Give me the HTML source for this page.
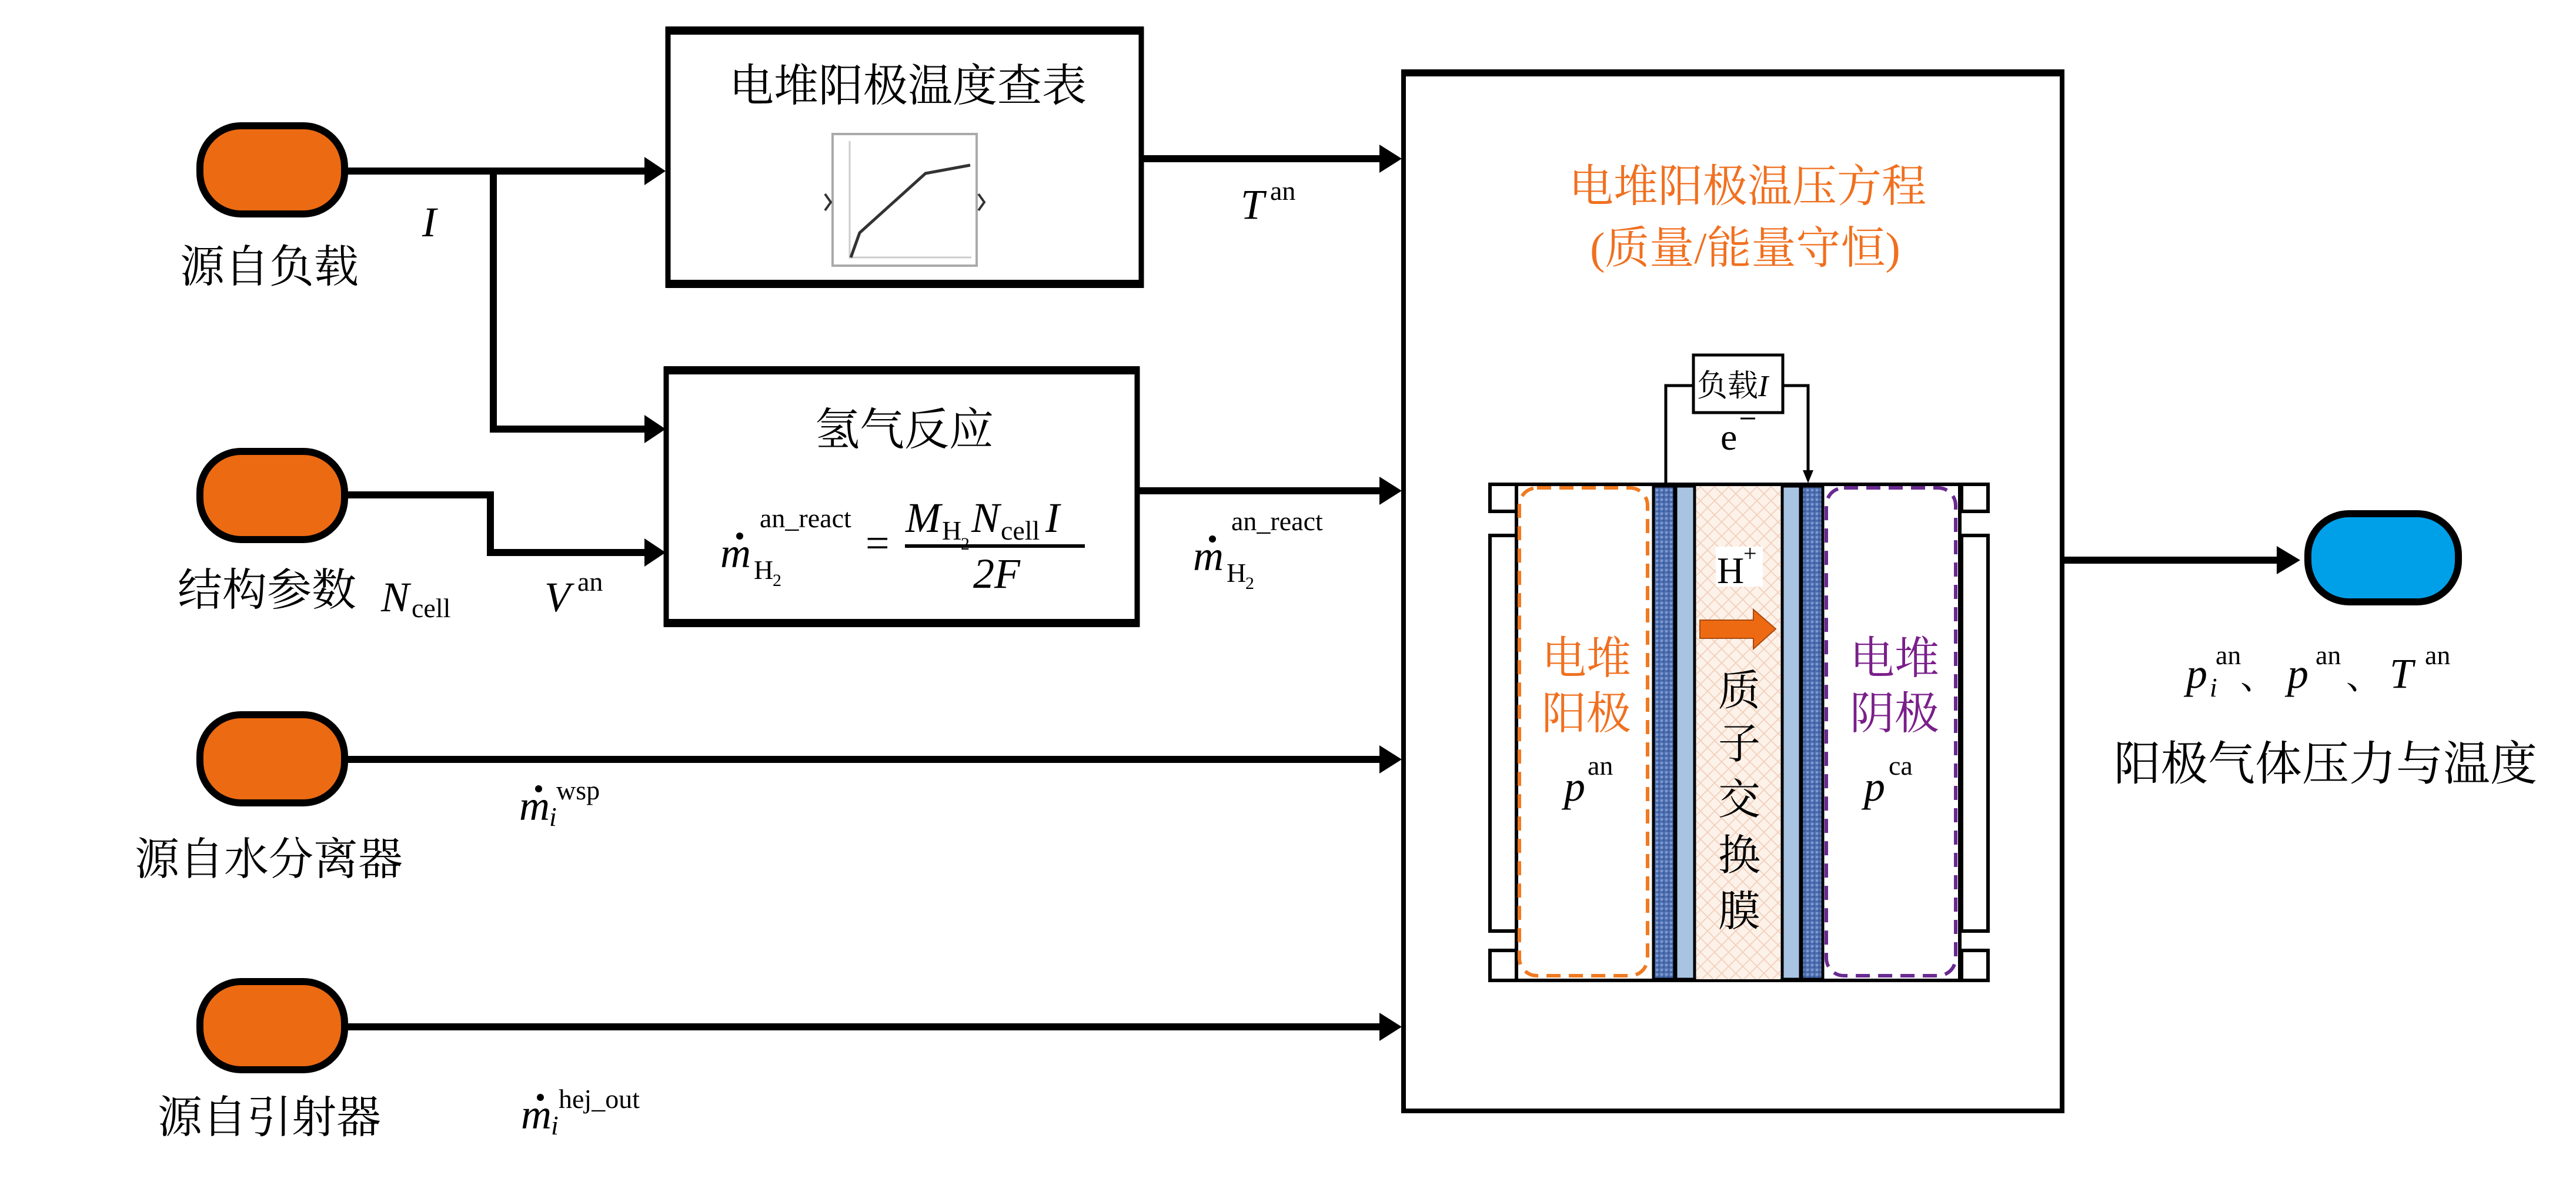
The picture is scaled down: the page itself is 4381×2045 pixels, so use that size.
<!DOCTYPE html>
<html><head><meta charset="utf-8"><style>
html,body{margin:0;padding:0;background:#fff;}
svg{display:block;}
.cn{font-family:"Liberation Serif","Noto Serif CJK SC",serif;}
.m{font-family:"Liberation Serif",serif;font-style:italic;}
.r{font-family:"Liberation Serif",serif;}
</style></head><body>
<svg width="4381" height="2045" viewBox="0 0 4381 2045" xmlns="http://www.w3.org/2000/svg">
<defs>
<pattern id="tex" width="8" height="8" patternUnits="userSpaceOnUse">
<rect width="8" height="8" fill="#4d6fb0"/><rect x="0" y="0" width="4" height="4" fill="#7f9ad0"/><rect x="4" y="4" width="3" height="3" fill="#3a5a9c"/>
</pattern>
<pattern id="mesh" width="24" height="24" patternUnits="userSpaceOnUse">
<rect width="24" height="24" fill="#fdf2ea"/><path d="M0 0L24 24M24 0L0 24" stroke="#f3d2bf" stroke-width="2"/>
</pattern>
</defs>

<g stroke="#000" stroke-width="12" fill="#ec6a12">
<rect x="340" y="214" width="246" height="150" rx="70"/>
<rect x="340" y="768" width="246" height="150" rx="70"/>
<rect x="340" y="1216" width="246" height="150" rx="70"/>
<rect x="340" y="1670" width="246" height="150" rx="70"/>
<rect x="3925" y="874" width="256" height="150" rx="70" fill="#00a0e9"/>
</g>

<g stroke="#000" stroke-width="12" fill="none">
<path d="M586 291H1100"/>
<path d="M839 291V730H1100"/>
<path d="M586 842H834V940H1100"/>
<path d="M1944 270H2350"/>
<path d="M1937 835H2350"/>
<path d="M586 1292H2350"/>
<path d="M586 1747H2350"/>
<path d="M3509 953H3890"/>
</g>
<g fill="#000">
<path d="M1096 267L1132 291L1096 315Z"/>
<path d="M1096 706L1132 730L1096 754Z"/>
<path d="M1096 916L1132 940L1096 964Z"/>
<path d="M2346 246L2384 270L2346 294Z"/>
<path d="M2346 811L2384 835L2346 859Z"/>
<path d="M2346 1268L2384 1292L2346 1316Z"/>
<path d="M2346 1723L2384 1747L2346 1771Z"/>
<path d="M3872 929L3912 953L3872 977Z"/>
</g>

<rect x="1136" y="50" width="805" height="435" fill="none" stroke="#000" stroke-width="9"/>
<line x1="1132" y1="52" x2="1945" y2="52" stroke="#000" stroke-width="14"/>
<line x1="1132" y1="483" x2="1945" y2="483" stroke="#000" stroke-width="14"/>
<rect x="1133" y="628" width="801" height="434" fill="none" stroke="#000" stroke-width="9"/>
<line x1="1129" y1="630" x2="1938" y2="630" stroke="#000" stroke-width="14"/>
<line x1="1129" y1="1060" x2="1938" y2="1060" stroke="#000" stroke-width="14"/>
<rect x="2387" y="122" width="1120" height="1768" fill="none" stroke="#000" stroke-width="8"/>
<line x1="2383" y1="124" x2="3511" y2="124" stroke="#000" stroke-width="12"/>

<rect x="1416" y="228" width="245" height="224" fill="#fff" stroke="#aaa" stroke-width="4"/>
<line x1="1445" y1="240" x2="1445" y2="440" stroke="#ccc" stroke-width="3"/>
<line x1="1445" y1="438" x2="1652" y2="438" stroke="#ccc" stroke-width="3"/>
<polyline points="1447,438 1462,396 1574,295 1650,281" fill="none" stroke="#333" stroke-width="5"/>
<path d="M1403 330L1413 344L1403 358M1664 330L1674 344L1664 358" fill="none" stroke="#333" stroke-width="4"/>

<g class="cn" font-size="76" fill="#000">
<text x="306" y="480">源自负载</text>
<text x="302" y="1030">结构参数</text>
<text x="229" y="1488">源自水分离器</text>
<text x="268" y="1927">源自引射器</text>
<text x="1240" y="172">电堆阳极温度查表</text>
<text x="1538" y="757" text-anchor="middle">氢气反应</text>
<text x="3595" y="1327" font-size="80">阳极气体压力与温度</text>
</g>
<g class="cn" font-size="76" fill="#f07020" text-anchor="middle">
<text x="2972" y="343">电堆阳极温压方程</text>
<text x="2968" y="448">(质量/能量守恒)</text>
</g>

<g fill="#000" font-size="72">
<text class="m" x="718" y="402">I</text>
<text class="m" x="2110" y="372">T</text><text class="r" x="2160" y="340" font-size="46">an</text>
<text class="m" x="648" y="1040">N</text><text class="r" x="700" y="1050" font-size="46">cell</text>
<text class="m" x="926" y="1040">V</text><text class="r" x="982" y="1005" font-size="46">an</text>
<text class="m" x="1225" y="965">m</text><circle cx="1258" cy="912" r="6"/>
<text class="r" x="1282" y="985" font-size="46">H</text><text class="r" x="1314" y="997" font-size="30">2</text>
<text class="r" x="1292" y="897" font-size="46">an_react</text>
<text class="r" x="1472" y="948">=</text>
<line x1="1539" y1="929" x2="1845" y2="929" stroke="#000" stroke-width="6"/>
<text class="m" x="1540" y="905">M</text><text class="r" x="1602" y="918" font-size="46">H</text><text class="r" x="1634" y="935" font-size="30">2</text>
<text class="m" x="1652" y="905">N</text><text class="r" x="1702" y="918" font-size="46">cell</text><text class="m" x="1778" y="905">I</text>
<text class="m" x="1655" y="1000">2F</text>
<text class="m" x="2029" y="970">m</text><circle cx="2062" cy="917" r="6"/>
<text class="r" x="2086" y="990" font-size="46">H</text><text class="r" x="2118" y="1002" font-size="30">2</text>
<text class="r" x="2094" y="902" font-size="46">an_react</text>
<text class="m" x="883" y="1395">m</text><circle cx="916" cy="1342" r="6"/>
<text class="m" x="934" y="1405" font-size="46">i</text><text class="r" x="946" y="1360" font-size="46">wsp</text>
<text class="m" x="886" y="1920">m</text><circle cx="919" cy="1867" r="6"/>
<text class="m" x="937" y="1930" font-size="46">i</text><text class="r" x="950" y="1885" font-size="46">hej_out</text>
<text class="m" x="3718" y="1170">p</text><text class="m" x="3758" y="1185" font-size="46">i</text><text class="r" x="3768" y="1130" font-size="46">an</text>
<text class="cn" x="3810" y="1172" font-size="60">、</text>
<text class="m" x="3890" y="1170">p</text><text class="r" x="3938" y="1130" font-size="46">an</text>
<text class="cn" x="3990" y="1172" font-size="60">、</text>
<text class="m" x="4064" y="1170">T</text><text class="r" x="4124" y="1130" font-size="46">an</text>
</g>

<g stroke="#000" stroke-width="6" fill="#fff">
<line x1="2534" y1="824" x2="3381" y2="824"/>
<line x1="2534" y1="1668" x2="3381" y2="1668"/>
<rect x="2534" y="824" width="45" height="46"/>
<rect x="3336" y="824" width="45" height="46"/>
<rect x="2534" y="911" width="45" height="673"/>
<rect x="3336" y="911" width="45" height="673"/>
<rect x="2534" y="1617" width="45" height="51"/>
<rect x="3336" y="1617" width="45" height="51"/>
<line x1="2579" y1="824" x2="2579" y2="1668"/>
<line x1="3333" y1="824" x2="3333" y2="1668"/>
</g>
<rect x="2885" y="827" width="143" height="839" fill="url(#mesh)"/>
<rect x="2812" y="827" width="36" height="839" fill="url(#tex)" stroke="#000" stroke-width="5"/>
<rect x="2850" y="827" width="32" height="839" fill="#a9c4e3" stroke="#000" stroke-width="5"/>
<rect x="3031" y="827" width="31" height="839" fill="#a9c4e3" stroke="#000" stroke-width="5"/>
<rect x="3064" y="827" width="36" height="839" fill="url(#tex)" stroke="#000" stroke-width="5"/>
<rect x="2584" y="830" width="218" height="830" rx="30" fill="none" stroke="#f07a20" stroke-width="6" stroke-dasharray="24 14"/>
<rect x="3106" y="830" width="220" height="830" rx="30" fill="none" stroke="#6a2a90" stroke-width="6" stroke-dasharray="24 14"/>
<path d="M2833 824V656H2880M3030 656H3075V805" fill="none" stroke="#000" stroke-width="5"/>
<path d="M3066 800L3075 822L3084 800Z" fill="#000"/>
<rect x="2880" y="604" width="152" height="98" fill="#fff" stroke="#000" stroke-width="5"/>
<text class="cn" x="2886" y="674" font-size="52">负载<tspan class="m">I</tspan></text>
<text class="r" x="2926" y="765" font-size="64">e</text>
<line x1="2960" y1="712" x2="2985" y2="712" stroke="#000" stroke-width="3"/>
<rect x="2918" y="930" width="80" height="68" fill="#fff"/>
<text class="r" x="2920" y="992" font-size="64">H</text><text class="r" x="2965" y="955" font-size="40">+</text>
<path d="M2891 1055H2982V1037L3020 1070L2982 1104V1086H2891Z" fill="#ed6a12" stroke="#a94a10" stroke-width="2"/>
<g class="cn" font-size="72" text-anchor="middle" fill="#000">
<text x="2958" y="1200">质</text><text x="2958" y="1290">子</text><text x="2958" y="1385">交</text><text x="2958" y="1480">换</text><text x="2958" y="1575">膜</text>
</g>
<g class="cn" font-size="76" fill="#f07020" text-anchor="middle">
<text x="2698" y="1146">电堆</text><text x="2698" y="1240">阳极</text>
</g>
<g class="cn" font-size="76" fill="#7a1f8a" text-anchor="middle">
<text x="3222" y="1146">电堆</text><text x="3222" y="1240">阴极</text>
</g>
<text class="m" x="2660" y="1362" font-size="72">p</text><text class="r" x="2700" y="1318" font-size="46">an</text>
<text class="m" x="3170" y="1362" font-size="72">p</text><text class="r" x="3212" y="1318" font-size="46">ca</text>
</svg>
</body></html>
